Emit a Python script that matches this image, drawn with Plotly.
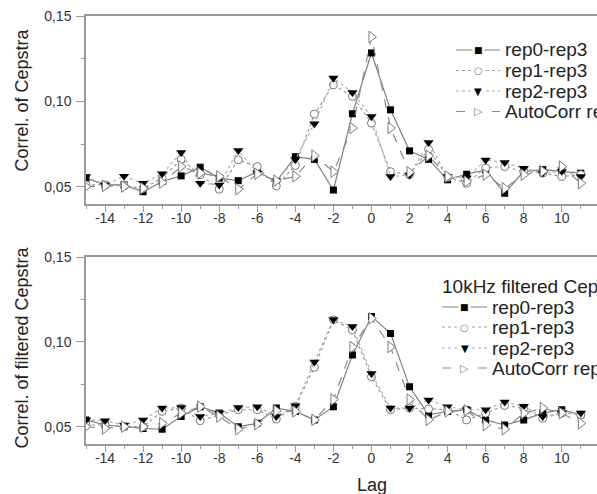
import plotly.graph_objects as go

lags = list(range(-15, 12))

series_names = ["rep0-rep3", "rep1-rep3", "rep2-rep3", "AutoCorr rep3"]
legend2_title = "10kHz filtered Cepstra"

# Top panel: Correl. of Cepstra
top_rep0 = [0.055, 0.051, 0.051, 0.047, 0.053, 0.0563, 0.0614, 0.055, 0.0535, 0.0588, 0.053, 0.0676, 0.066,
            0.048, 0.0928, 0.1285, 0.0951, 0.071, 0.066, 0.054, 0.0573, 0.0598, 0.0461, 0.059, 0.060, 0.0589, 0.0579]
top_rep1 = [0.051, 0.051, 0.0505, 0.049, 0.055, 0.066, 0.057, 0.0485, 0.0657, 0.0618, 0.0504, 0.0624, 0.0926,
            0.1098, 0.103, 0.0873, 0.0588, 0.057, 0.072, 0.0555, 0.052, 0.061, 0.0618, 0.0588, 0.058, 0.0559, 0.057]
top_rep2 = [0.0559, 0.051, 0.0561, 0.052, 0.0575, 0.070, 0.052, 0.051, 0.0712, 0.058, 0.0535, 0.066, 0.0869,
            0.1138, 0.1053, 0.0912, 0.0559, 0.0569, 0.0759, 0.0559, 0.055, 0.0657, 0.0641, 0.0608, 0.058, 0.059, 0.056]
top_auto = [0.050, 0.0504, 0.050, 0.049, 0.0524, 0.0618, 0.0579, 0.056, 0.0485, 0.0575, 0.0535, 0.056, 0.0682,
            0.0588, 0.0844, 0.1379, 0.0844, 0.0584, 0.0681, 0.056, 0.053, 0.057, 0.049, 0.057, 0.059, 0.0618, 0.052]

# Bottom panel: Correl. of filtered Cepstra
bot_rep0 = [0.054, 0.051, 0.050, 0.049, 0.0485, 0.056, 0.0618, 0.058, 0.050, 0.052, 0.061, 0.059, 0.054,
            0.0618, 0.0922, 0.115, 0.105, 0.0735, 0.057, 0.059, 0.060, 0.054, 0.051, 0.054, 0.058, 0.060, 0.057]
bot_rep1 = [0.051, 0.051, 0.050, 0.050, 0.059, 0.061, 0.0535, 0.057, 0.060, 0.060, 0.0545, 0.062, 0.085,
            0.113, 0.107, 0.0794, 0.060, 0.061, 0.0605, 0.060, 0.054, 0.058, 0.0625, 0.061, 0.055, 0.058, 0.057]
bot_rep2 = [0.054, 0.0535, 0.051, 0.054, 0.061, 0.0613, 0.056, 0.058, 0.0613, 0.0618, 0.056, 0.0624, 0.0882,
            0.1132, 0.109, 0.0814, 0.061, 0.061, 0.0657, 0.0618, 0.060, 0.060, 0.0645, 0.062, 0.056, 0.058, 0.058]
bot_auto = [0.050, 0.049, 0.050, 0.050, 0.052, 0.058, 0.0618, 0.056, 0.0485, 0.0515, 0.0594, 0.059, 0.054,
            0.066, 0.097, 0.1138, 0.097, 0.066, 0.054, 0.059, 0.0596, 0.051, 0.0485, 0.058, 0.061, 0.058, 0.052]

x_tick_vals = [-14, -12, -10, -8, -6, -4, -2, 0, 2, 4, 6, 8, 10]
x_tick_text = ["-14", "-12", "-10", "-8", "-6", "-4", "-2", "0", "2", "4", "6", "8", "10"]
y_tick_vals = [0.05, 0.10, 0.15]
y_tick_text = ["0,05", "0,10", "0,15"]

W, H = 597, 494
ML, MR, MT, MB = 86, 0, 16, 50
PW, PH = W - ML - MR, H - MT - MB


def px(xp):
    return (xp - ML) / PW


def py(yp):
    return (H - MB - yp) / PH


styles = [
    dict(line=dict(color="#808080", width=1.2, dash="solid"),
         marker=dict(symbol="square", size=7, color="black", line=dict(color="black", width=0))),
    dict(line=dict(color="#9a9a9a", width=1.2, dash="dot"),
         marker=dict(symbol="circle", size=8, color="white", line=dict(color="#7a7a7a", width=1))),
    dict(line=dict(color="#b0b0b0", width=1.2, dash="dot"),
         marker=dict(symbol="triangle-down", size=9, color="black", line=dict(color="black", width=0))),
    dict(line=dict(color="#8a8a8a", width=1.2, dash="dash"),
         marker=dict(symbol="triangle-right", size=10, color="white", line=dict(color="#7a7a7a", width=1))),
]

fig = go.Figure()
top_series = [top_rep0, top_rep1, top_rep2, top_auto]
bot_series = [bot_rep0, bot_rep1, bot_rep2, bot_auto]
for name, ys, st in zip(series_names, top_series, styles):
    fig.add_trace(go.Scatter(x=lags, y=ys, name=name, mode="lines+markers",
                             line=st["line"], marker=st["marker"], xaxis="x", yaxis="y", showlegend=False))
for name, ys, st in zip(series_names, bot_series, styles):
    fig.add_trace(go.Scatter(x=lags, y=ys, name=name, mode="lines+markers",
                             line=st["line"], marker=st["marker"], xaxis="x2", yaxis="y2", showlegend=False))

axis_col = "#9a9a9a"
tick_font = dict(family="Liberation Sans, Arial, sans-serif", size=14, color="#333333")
xr = [-15, 11.85]
yr = [0.0398, 0.1502]

xcommon = dict(range=xr, tickvals=x_tick_vals, ticktext=x_tick_text, showgrid=False, zeroline=False,
               showline=True, linecolor=axis_col, linewidth=1.5, mirror=True, ticks="outside",
               ticklen=6, tickcolor=axis_col, tickwidth=1, tickfont=tick_font, ticklabelstandoff=-6,
               minor=dict(dtick=1, tick0=0, ticklen=3, tickcolor=axis_col, ticks="outside", showgrid=False))
ycommon = dict(range=yr, tickvals=y_tick_vals, ticktext=y_tick_text, showgrid=False, zeroline=False,
               showline=True, linecolor=axis_col, linewidth=1.5, mirror=True, ticks="outside",
               ticklen=8, tickcolor=axis_col, tickwidth=1, tickfont=tick_font, ticklabelstandoff=2,
               minor=dict(dtick=0.025, tick0=0, ticklen=3, tickcolor=axis_col, ticks="outside", showgrid=False))

fig.update_layout(
    width=W, height=H,
    margin=dict(l=ML, r=MR, t=MT, b=MB, autoexpand=False),
    paper_bgcolor="white", plot_bgcolor="white",
    showlegend=False,
    xaxis=dict(domain=[0, 1], anchor="y", **xcommon),
    yaxis=dict(domain=[py(204), 1], anchor="x", **ycommon),
    xaxis2=dict(domain=[0, 1], anchor="y2", **xcommon),
    yaxis2=dict(domain=[0, py(256.7)], anchor="x2", **ycommon),
    font=dict(family="Liberation Sans, Arial, sans-serif"),
)

annotations = []
shapes = []
title_font = dict(family="Liberation Sans, Arial, sans-serif", size=18, color="#222222")
annotations.append(dict(text="Correl. of Cepstra", xref="paper", yref="paper", x=px(21.5), y=py(100),
                        textangle=-90, showarrow=False, font=title_font, xanchor="center", yanchor="middle"))
annotations.append(dict(text="Correl. of filtered Cepstra", xref="paper", yref="paper", x=px(21.5), y=py(348),
                        textangle=-90, showarrow=False, font=title_font, xanchor="center", yanchor="middle"))
annotations.append(dict(text="Lag", xref="paper", yref="paper", x=px(372), y=py(485),
                        showarrow=False, font=title_font, xanchor="center", yanchor="middle"))

leg_font = dict(family="Liberation Sans, Arial, sans-serif", size=19, color="#222222")
glyphs = ["\u25A0", "\u25CB", "\u25BC", "\u25B7"]
glyph_cols = ["black", "#7a7a7a", "black", "#7a7a7a"]
glyph_sizes = [9, 10, 10, 11]


def add_legend(x_line0, x_line1, x_text, rows):
    for i, (name, st) in enumerate(zip(series_names, styles)):
        yrow = rows[i]
        shapes.append(dict(type="line", xref="paper", yref="paper", x0=px(x_line0), x1=px(x_line1),
                           y0=py(yrow), y1=py(yrow),
                           line=dict(color=st["line"]["color"], width=1.2, dash=st["line"]["dash"])))
        annotations.append(dict(text=glyphs[i], xref="paper", yref="paper", x=px((x_line0 + x_line1) / 2),
                                y=py(yrow), showarrow=False, xanchor="center", yanchor="middle",
                                bgcolor="white",
                                font=dict(family="DejaVu Sans", size=glyph_sizes[i], color=glyph_cols[i])))
        annotations.append(dict(text=name, xref="paper", yref="paper", x=px(x_text), y=py(yrow),
                                showarrow=False, xanchor="left", yanchor="middle", font=leg_font))


add_legend(456, 500, 503, [50, 70.5, 91, 111.5])
annotations.append(dict(text=legend2_title, xref="paper", yref="paper", x=px(440), y=py(287),
                        showarrow=False, xanchor="left", yanchor="middle", font=leg_font))
add_legend(442, 487, 490, [307, 327, 348, 368])

fig.update_layout(annotations=annotations, shapes=shapes)
fig.write_html("out.html")
